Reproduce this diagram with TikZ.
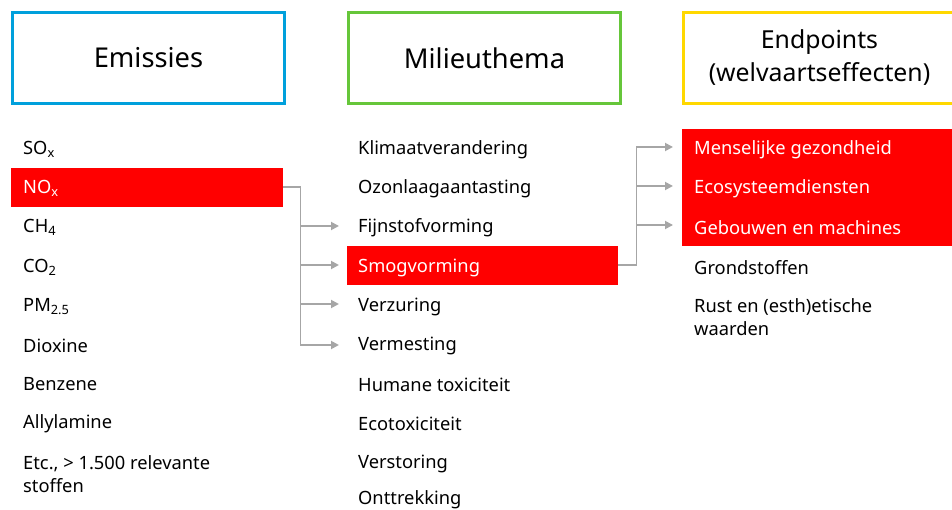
\documentclass[tikz,border=0pt]{standalone}
\usepackage{fontspec}
\setmainfont{Noto Sans}
\usetikzlibrary{arrows.meta}
\definecolor{cblue}{HTML}{00A0DC}
\definecolor{cgreen}{HTML}{66C63A}
\definecolor{cyellow}{HTML}{FFD800}
\definecolor{cred}{HTML}{FF0000}
\definecolor{cgray}{HTML}{A6A6A6}
\tikzset{
  x=1pt,y=-1pt,
  head/.style={draw=#1,line width=3pt,minimum width=272pt,minimum height=91pt,anchor=north west,inner sep=0pt,align=center},
  item/.style={anchor=west,inner sep=0pt,font=\fontsize{18.3}{23}\selectfont,align=left},
  hl/.style={item,text=white},
  bar/.style={fill=cred,draw=none,anchor=north west,inner sep=0pt},
  conn/.style={draw=cgray,line width=1.8pt,-{Triangle[length=8pt,width=8pt]}},
  connplain/.style={draw=cgray,line width=1.8pt},
}
\begin{document}
\begin{tikzpicture}
\useasboundingbox (0,0) rectangle (952,510);
% headers
\node[head=cblue,font=\fontsize{27.3}{30}\selectfont] (h1) at (11,11) {Emissies};
\node[head=cgreen,font=\fontsize{27.3}{30}\selectfont] (h2) at (347,11) {Milieuthema};
\node[head=cyellow,font=\fontsize{24.8}{33}\selectfont] (h3) at (682,11) {Endpoints\\(welvaartseffecten)};
% red bars
\node[bar,minimum width=272pt,minimum height=39pt] (b1) at (11,168) {};
\node[bar,minimum width=271pt,minimum height=39pt] (b2) at (347,246) {};
\node[bar,minimum width=275pt,minimum height=117pt] (b3) at (682,129) {};
% left column
\node[item] (sox) at (23,149.5) {SO\textsubscript{x}};
\node[hl] (nox) at (23,188.5) {NO\textsubscript{x}};
\node[item] (ch4) at (23,227.5) {CH\textsubscript{4}};
\node[item] (co2) at (23,267.5) {CO\textsubscript{2}};
\node[item] (pm) at (23,306.5) {PM\textsubscript{2.5}};
\node[item] (diox) at (23,345.5) {Dioxine};
\node[item] (benz) at (23,384.5) {Benzene};
\node[item] (ally) at (23,423.5) {Allylamine};
\node[item] (etc) at (23,474.5) {Etc., > 1.500 relevante\\stoffen};
% middle column
\node[item] (klim) at (358,149.5) {Klimaatverandering};
\node[item] (ozon) at (358,188.5) {Ozonlaagaantasting};
\node[item] (fijn) at (358,227.5) {Fijnstofvorming};
\node[hl] (smog) at (358,267.5) {Smogvorming};
\node[item] (verz) at (358,306.5) {Verzuring};
\node[item] (verm) at (358,345.5) {Vermesting};
\node[item] (hum) at (358,384.5) {Humane toxiciteit};
\node[item] (eco) at (358,423.5) {Ecotoxiciteit};
\node[item] (vers) at (358,463.5) {Verstoring};
\node[item] (ont) at (358,500) {Onttrekking};
% right column
\node[hl] (mens) at (694,149.5) {Menselijke gezondheid};
\node[hl] (ecod) at (694,188.5) {Ecosysteemdiensten};
\node[hl] (geb) at (694,227.5) {Gebouwen en machines};
\node[item] (grond) at (694,267.5) {Grondstoffen};
\node[item] (rust) at (694,317.5) {Rust en (esth)etische\\waarden};
% connectors left -> middle
\draw[connplain] (b1.east |- 0,187) -- ++(17,0) coordinate (j1) -- (j1 |- 0,345);
\foreach \t/\yy in {fijn/226,smog/265,verz/304,verm/345}
  \draw[conn] (j1 |- 0,\yy) -- ([xshift=-19pt]\t.west |- 0,\yy);
% connectors middle -> right
\draw[connplain] (b2.east |- 0,265) -- ++(18,0) coordinate (j2) -- (j2 |- 0,147);
\foreach \t/\yy in {mens/147,ecod/186,geb/225}
  \draw[conn] (j2 |- 0,\yy) -- ([xshift=-21pt]\t.west |- 0,\yy);
\end{tikzpicture}
\end{document}
